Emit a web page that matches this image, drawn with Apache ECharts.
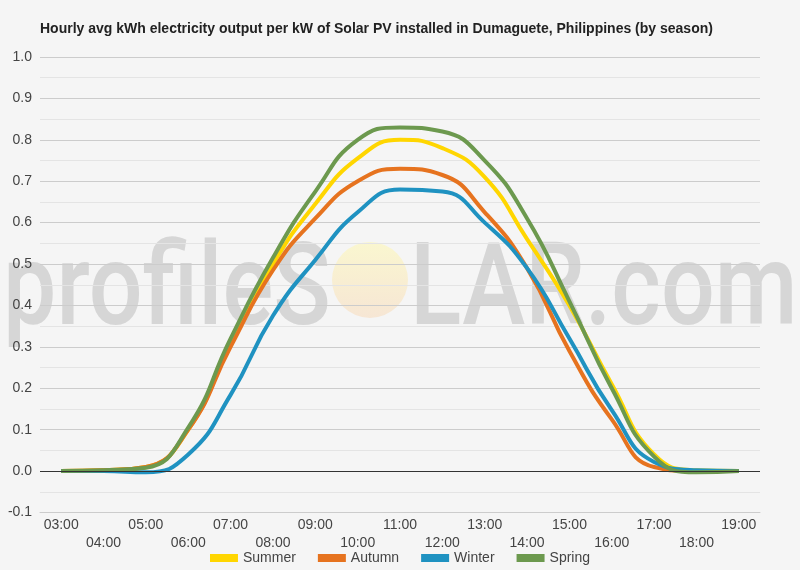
<!DOCTYPE html>
<html>
<head>
<meta charset="utf-8">
<script src="https://cdn.jsdelivr.net/npm/echarts@6/dist/echarts.min.js"></script>
<style>
  html, body { margin: 0; padding: 0; background: #f5f5f5; }
  #chart { width: 800px; height: 570px; }
</style>
</head>
<body>
<div id="chart"></div>
<script>
// hours of the day (category axis)
const hours = ['03:00', '04:00', '05:00', '06:00', '07:00', '08:00', '09:00', '10:00',
  '11:00', '12:00', '13:00', '14:00', '15:00', '16:00', '17:00', '18:00', '19:00']

// avg kWh per kW
const summer = [0, 0.002, 0.01, 0.10, 0.31, 0.50, 0.645, 0.755, 0.80, 0.78, 0.71, 0.56, 0.40, 0.21, 0.04, 0.002, 0]
const autumn = [0, 0.002, 0.01, 0.10, 0.30, 0.485, 0.61, 0.70, 0.73, 0.715, 0.625, 0.49, 0.29, 0.125, 0.01, 0, 0]
const winter = [0, 0, -0.003, 0.04, 0.184, 0.375, 0.51, 0.625, 0.68, 0.675, 0.60, 0.49, 0.32, 0.147, 0.022, 0.002, 0]
const spring = [0, 0.002, 0.008, 0.105, 0.32, 0.515, 0.675, 0.80, 0.83, 0.82, 0.75, 0.61, 0.41, 0.20, 0.035, -0.003, 0]

const seasonNames = ['Summer', 'Autumn', 'Winter', 'Spring']
const seasonColors = ['#FFD600', '#E6731F', '#1F92C1', '#6C994E']
const seasonData = [summer, autumn, winter, spring]

const chart = echarts.init(document.getElementById('chart'))
const font = '"Liberation Sans", Arial, sans-serif'
const markFont = '500 95px Roboto, "Liberation Sans", sans-serif'

function makeSeries(i) {
  const s = {
    name: seasonNames[i],
    type: 'line',
    smooth: 0.5,
    symbol: 'none',
    lineStyle: { width: 4, color: seasonColors[i] },
    itemStyle: { color: seasonColors[i] },
    data: seasonData[i]
  }
  if (i === 0) {
    // dark zero line
    s.markLine = {
      silent: true,
      symbol: 'none',
      label: { show: false },
      lineStyle: { color: '#333', width: 1, type: 'solid' },
      data: [{ yAxis: 0 }]
    }
  }
  return s
}

const option = {
  backgroundColor: '#f5f5f5',
  animation: false,
  textStyle: { fontFamily: font },
  title: {
    text: 'Hourly avg kWh electricity output per kW of Solar PV installed in Dumaguete, Philippines (by season)',
    left: 35,
    top: 17,
    textStyle: { fontSize: 14, fontWeight: 'bold', color: '#222', fontFamily: font }
  },
  legend: {
    data: seasonNames,
    bottom: 0,
    left: 'center',
    icon: 'rect',
    itemWidth: 28,
    itemHeight: 8,
    itemGap: 22,
    textStyle: { fontSize: 14, color: '#444', fontFamily: font }
  },
  grid: {
    left: 40,
    right: 40,
    top: 57,
    bottom: 57.5
  },
  xAxis: {
    type: 'category',
    boundaryGap: true,
    data: hours,
    axisTick: { show: false },
    axisLine: { onZero: false, lineStyle: { color: '#ccc' } },
    axisLabel: {
      interval: 0,
      margin: 4,
      fontSize: 14,
      color: '#444',
      lineHeight: 18,
      formatter: function (v, i) {
        return i % 2 ? '\n' + v : v
      }
    }
  },
  yAxis: {
    type: 'value',
    min: -0.1,
    max: 1.0,
    interval: 0.1,
    axisLine: { show: false },
    axisTick: { show: false },
    axisLabel: {
      fontSize: 14,
      color: '#444',
      margin: 8,
      formatter: function (v) { return v.toFixed(1) }
    },
    splitLine: { lineStyle: { color: '#cccccc' } },
    minorTick: { show: false, splitNumber: 2 },
    minorSplitLine: { show: true, lineStyle: { color: '#e4e4e4' } }
  },
  graphic: [{
    type: 'group',
    z: 100,
    silent: true,
    children: [{
      type: 'text',
      x: 3,
      y: 353,
      scaleY: 1.22,
      style: {
        text: 'profileS',
        font: markFont,
        fill: 'rgba(150,150,150,0.32)',
        textVerticalAlign: 'bottom'
      }
    }, {
      type: 'circle',
      shape: { cx: 370, cy: 280, r: 38 },
      style: {
        fill: new echarts.graphic.LinearGradient(0, 0, 0, 1, [
          { offset: 0, color: 'rgba(255,248,170,0.5)' },
          { offset: 1, color: 'rgba(248,215,180,0.5)' }
        ])
      }
    }, {
      type: 'text',
      x: 410,
      y: 353,
      scaleY: 1.22,
      style: {
        text: 'LAR.com',
        font: markFont,
        fill: 'rgba(150,150,150,0.32)',
        textVerticalAlign: 'bottom'
      }
    }]
  }],
  series: [0, 1, 2, 3].map(makeSeries)
}

chart.setOption(option)
</script>
</body>
</html>
